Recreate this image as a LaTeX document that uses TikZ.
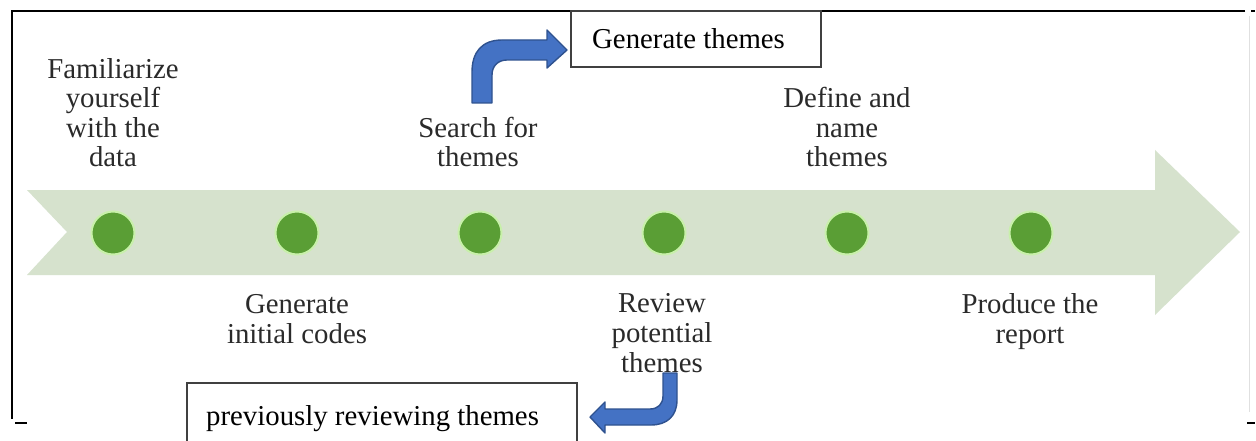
\documentclass[tikz,border=0pt]{standalone}
\usepackage{fontspec}
\setmainfont{Liberation Serif}
\definecolor{band}{HTML}{D6E2CD}
\definecolor{dotfill}{HTML}{5A9E35}
\definecolor{dotring}{HTML}{C8F0AA}
\definecolor{blockblue}{HTML}{4472C4}
\definecolor{blockedge}{HTML}{2F528F}
\definecolor{labelgray}{HTML}{2A2A2A}
\begin{document}
\begin{tikzpicture}[x=1pt,y=-1pt,
  stage/.style={circle,fill=dotfill,draw=dotring,line width=2pt,minimum size=43pt,inner sep=0pt},
  steplabel/.style={align=center,anchor=base,inner sep=0pt,text=labelgray,
    font=\fontsize{28.8}{29.6}\selectfont},
  boxtext/.style={anchor=base west,inner sep=0pt,text=black,font=\fontsize{28.8}{30}\selectfont},
  notebox/.style={draw=black!75,line width=1.4pt},
  bentarrow/.style={fill=blockblue,draw=blockedge,line width=1.4pt,line join=round},
  frameline/.style={line width=2.4pt,black}]
\useasboundingbox (0,0) rectangle (1256,441);
\fill[white] (0,0) rectangle (1256,441);

% outer frame fragments
\draw[frameline] (1245,11) -- (12,11) -- (12,419);
\draw[frameline] (15,423) -- (27,423);
\draw[frameline] (1247,423) -- (1255,423);
\draw[frameline] (1251,11) -- (1255,11);
\draw[black!12,line width=1pt] (1249,16) -- (1249,412);

% timeline band with notched tail and arrow head
\fill[band] (27,190) -- (1155,190) -- (1155,150) -- (1240,232) -- (1155,315)
  -- (1155,275) -- (27,275) -- (67,232) -- cycle;

% stage dots
\foreach \i/\x in {1/113,2/297,3/480,4/664,5/847,6/1031}
  \node[stage] (dot\i) at (\x,233) {};

% stage labels (anchored at the baseline of their last line)
\node[steplabel] (lab1) at (113,167) {Familiarize\\yourself\\with the\\data};
\node[steplabel] (lab2) at (297,343) {Generate\\initial codes};
\node[steplabel] (lab3) at (478,167) {Search for\\themes};
\node[steplabel] (lab4) at (662,372) {Review\\potential\\themes};
\node[steplabel] (lab5) at (847,167) {Define and\\name\\themes};
\node[steplabel] (lab6) at (1030,343) {Produce the\\report};

% note boxes
\draw[notebox] (571,11) rectangle (821,67);
\node[boxtext] (gen) at (592,49) {Generate themes};
\draw[notebox] (187,445) -- (187,383) -- (577,383) -- (577,445);
\node[boxtext] (prev) at (206,425) {previously reviewing themes};

% bent arrow: search for themes -> generate themes
\draw[bentarrow] (472,103) -- (472,72) .. controls (472,52) and (482,40) .. (502,40)
  -- (547,40) -- (547,30) -- (567,50) -- (547,68) -- (547,60) -- (507,60)
  .. controls (498,60) and (492,66) .. (492,75) -- (492,103) -- cycle;

% bent arrow: review potential themes -> previously reviewing themes
\draw[bentarrow] (663,373) -- (677,373) -- (677,400) .. controls (677,416) and (667,425) .. (651,425)
  -- (605,425) -- (605,433) -- (590,417) -- (605,402) -- (605,409) -- (650,409)
  .. controls (658,409) and (663,404) .. (663,396) -- cycle;
\end{tikzpicture}
\end{document}
